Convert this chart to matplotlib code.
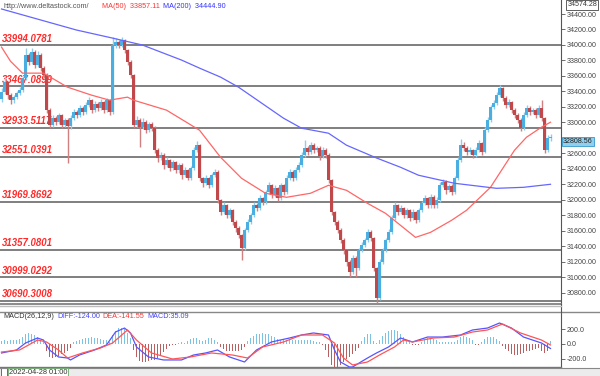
import matplotlib
matplotlib.use("Agg")
import matplotlib.pyplot as plt
from matplotlib.patches import Rectangle
import numpy as np

plt.rcParams['font.family'] = ['Liberation Sans', 'DejaVu Sans']

# ---------------- data ----------------
opens = [33300, 33391, 33520, 33352, 33287, 33326, 33378, 33416, 33572, 33869,
         33779, 33908, 33740, 33869, 33701, 33610, 33158, 32963, 33054, 33002,
         33093, 32963, 33028, 32950, 33054, 33132, 33093, 33183, 33132, 33222,
         33287, 33158, 33235, 33183, 33261, 33158, 33287, 33132, 33999, 34038,
         33999, 34063, 33934, 33779, 33610, 32963, 33028, 32938, 33002, 32899,
         32976, 32925, 32640, 32536, 32575, 32446, 32511, 32407, 32485, 32381,
         32446, 32316, 32381, 32278, 32407, 32640, 32705, 32278, 32213, 32278,
         32187, 32316, 32355, 31993, 31838, 31928, 31799, 31864, 31708, 31631,
         31540, 31372, 31605, 31708, 31799, 31928, 31889, 32019, 31967, 32097,
         32187, 32058, 32148, 32019, 32187, 32097, 32278, 32355, 32278, 32381,
         32446, 32575, 32666, 32614, 32705, 32640, 32666, 32562, 32640, 32575,
         32252, 31838, 31708, 31605, 31475, 31346, 31191, 31061, 31242, 31113,
         31346, 31411, 31475, 31579, 31501, 31113, 30725, 31191, 31346, 31475,
         31579, 31760, 31928, 31838, 31889, 31799, 31864, 31760, 31838, 31734,
         31864, 31954, 32019, 31928, 32032, 31928, 31993, 32187, 32226, 32122,
         32174, 32097, 32278, 32511, 32705, 32666, 32614, 32640, 32575, 32640,
         32731, 32614, 32899, 33028, 33196, 33248, 33352, 33442, 33313, 33222,
         33261, 33158, 33093, 33028, 32925, 33093, 33183, 33132, 33158, 33093,
         33183, 33054, 32640, 32795]
highs = [33440, 33600, 33540, 33380, 33360, 33410, 33460, 33600, 33960, 33900,
         33960, 33930, 33920, 33890, 33730, 33640, 33190, 33090, 33080, 33120,
         33110, 33060, 33050, 33090, 33170, 33160, 33220, 33210, 33260, 33330,
         33300, 33270, 33260, 33300, 33280, 33320, 33300, 34102, 34090, 34070,
         34100, 34080, 33950, 33800, 33630, 33080, 33060, 33050, 33030, 33010,
         33000, 32950, 32670, 32620, 32600, 32550, 32530, 32520, 32500, 32480,
         32470, 32420, 32400, 32440, 32680, 32760, 32720, 32300, 32320, 32300,
         32350, 32400, 32380, 32010, 31970, 31950, 31900, 31880, 31740, 31660,
         31560, 31640, 31750, 31830, 31970, 31960, 32060, 32040, 32130, 32230,
         32210, 32190, 32170, 32220, 32210, 32320, 32400, 32380, 32420, 32490,
         32620, 32770, 32700, 32740, 32730, 32700, 32690, 32680, 32670, 32600,
         32270, 31860, 31740, 31640, 31500, 31370, 31220, 31290, 31270, 31380,
         31450, 31510, 31620, 31610, 31520, 31130, 31230, 31380, 31510, 31620,
         31800, 31970, 31950, 31930, 31910, 31900, 31880, 31880, 31860, 31900,
         31990, 32060, 32040, 32070, 32060, 32030, 32230, 32270, 32250, 32210,
         32200, 32310, 32550, 32780, 32740, 32690, 32680, 32660, 32680, 32770,
         32750, 32940, 33070, 33230, 33290, 33390, 33480, 33460, 33340, 33300,
         33280, 33180, 33120, 33050, 33130, 33230, 33210, 33190, 33180, 33220,
         33290, 33070, 32840, 32850]
lows = [33260, 33370, 33300, 33240, 33250, 33300, 33350, 33390, 33550, 33740,
        33750, 33700, 33720, 33660, 33570, 33120, 32930, 32940, 32970, 32980,
        32930, 32940, 32470, 32920, 33030, 33060, 33070, 33100, 33110, 33200,
        33120, 33140, 33150, 33160, 33120, 33140, 33090, 33110, 33960, 33960,
        33980, 33900, 33740, 33570, 32930, 32940, 32680, 32910, 32860, 32870,
        32890, 32600, 32490, 32510, 32400, 32420, 32370, 32380, 32340, 32350,
        32270, 32290, 32250, 32260, 32390, 32620, 32240, 32170, 32190, 32150,
        32170, 32290, 31960, 31800, 31810, 31760, 31770, 31670, 31590, 31500,
        31220, 31350, 31580, 31690, 31780, 31850, 31870, 31930, 31940, 32070,
        32020, 32040, 31980, 32000, 32060, 32080, 32250, 32240, 32260, 32360,
        32420, 32550, 32580, 32590, 32600, 32620, 32520, 32540, 32540, 32220,
        31800, 31670, 31570, 31440, 31300, 31150, 31000, 31040, 31000, 31090,
        31320, 31390, 31450, 31470, 31080, 30665, 30700, 31170, 31320, 31450,
        31560, 31740, 31800, 31810, 31760, 31770, 31720, 31740, 31700, 31710,
        31840, 31930, 31890, 31900, 31890, 31900, 31970, 32160, 32080, 32100,
        32060, 32080, 32260, 32490, 32630, 32580, 32590, 32540, 32550, 32620,
        32580, 32600, 32880, 33010, 33170, 33230, 33330, 33280, 33190, 33200,
        33120, 33060, 32990, 32890, 32900, 33070, 33100, 33110, 33060, 33070,
        33020, 32600, 32620, 32760]
closes = [33391, 33520, 33352, 33287, 33326, 33378, 33416, 33572, 33869, 33779,
          33908, 33740, 33869, 33701, 33610, 33158, 32963, 33054, 33002, 33093,
          32963, 33028, 32950, 33054, 33132, 33093, 33183, 33132, 33222, 33287,
          33158, 33235, 33183, 33261, 33158, 33287, 33132, 33999, 34038, 33999,
          34063, 33934, 33779, 33610, 32963, 33028, 32938, 33002, 32899, 32976,
          32925, 32640, 32536, 32575, 32446, 32511, 32407, 32485, 32381, 32446,
          32316, 32381, 32278, 32407, 32640, 32705, 32278, 32213, 32278, 32187,
          32316, 32355, 31993, 31838, 31928, 31799, 31864, 31708, 31631, 31540,
          31372, 31605, 31708, 31799, 31928, 31889, 32019, 31967, 32097, 32187,
          32058, 32148, 32019, 32187, 32097, 32278, 32355, 32278, 32381, 32446,
          32575, 32666, 32614, 32705, 32640, 32666, 32562, 32640, 32575, 32252,
          31838, 31708, 31605, 31475, 31346, 31191, 31061, 31242, 31113, 31346,
          31411, 31475, 31579, 31501, 31113, 30725, 31191, 31346, 31475, 31579,
          31760, 31928, 31838, 31889, 31799, 31864, 31760, 31838, 31734, 31864,
          31954, 32019, 31928, 32032, 31928, 31993, 32187, 32226, 32122, 32174,
          32097, 32278, 32511, 32705, 32666, 32614, 32640, 32575, 32640, 32731,
          32614, 32899, 33028, 33196, 33248, 33352, 33442, 33313, 33222, 33261,
          33158, 33093, 33028, 32925, 33093, 33183, 33132, 33158, 33093, 33183,
          33054, 32640, 32795, 32808.56]

ma50_idx = [0, 3, 7, 14, 22, 30, 36, 42, 44, 55, 66, 73, 80, 88, 95, 103, 109,
            115, 122, 128, 133, 138, 143, 150, 155, 163, 171, 175, 180, 183]
ma50_val = [33973, 33790, 33636, 33636, 33455, 33352, 33287, 33326, 33287, 33158,
            32899, 32550, 32278, 32084, 32032, 32084, 32187, 32122, 31954, 31825,
            31670, 31514, 31579, 31734, 31864, 32161, 32640, 32808, 32938, 33002]
ma200_idx = [0, 25, 37, 47, 60, 66, 73, 79, 94, 100, 109, 115, 125, 133, 139,
             151, 165, 174, 183]
ma200_val = [34465, 34193, 34089, 33999, 33805, 33701, 33585, 33455, 33054, 32925,
             32860, 32705, 32540, 32420, 32317, 32213, 32148, 32161, 32200]

levels = [33994.0781, 33467.0899, 32933.5117, 32551.0391, 31969.8692,
          31357.0801, 30999.0292, 30690.3008]
level_labels = ["33994.0781", "33467.0899", "32933.5117", "32551.0391",
                "31969.8692", "31357.0801", "30999.0292", "30690.3008"]

price_ticks = [30800, 31000, 31200, 31400, 31600, 31800, 32000, 32200, 32400,
               32600, 32800, 33000, 33200, 33400, 33600, 33800, 34000, 34200, 34400]
hidden_tick = 32800  # covered by the current-price box in the reference

macd_hist = [40, 50, 45, 55, 50, 60, 70,
             100, 130, 145, 140, 120,
             90, 60, 30,
             -100, -170, -190, -180, -160, -140, -120, -100, -60,
             20, 40, 60, 70, 80, 80, 90, 80, 80, 70, 60, 50,
             20,
             120, 180, 210, 220, 200, 150, 80,
             -80, -170, -230, -240, -240, -230, -220, -210, -190, -150, -110, -70,
             -30, -20, -10, 10, 20, 10,
             40, 70, 80, 80, 60,
             40, 60, 75, 75, 60, 30,
             -40, -70, -90, -100, -100, -95, -90, -80, -40,
             40, 80, 110, 130, 140, 145, 140, 130, 110, 90,
             70, 60, 55, 55, 50, 50, 55, 50,
             50, 60, 55, 50, 40, 30, 20,
             -20, -80, -180, -280, -320, -310, -280,
             -240, -200, -170, -130, -100, -60,
             40, 90, 130, 140, 40, 10,
             60, 110, 150, 180, 190, 190, 170, 140, 100, 60,
             20, -10, -20, -10,
             30, 60, 75, 80, 70, 50, 30,
             20, 25, 30, 25, 20,
             60, 100, 110, 100, 80, 50,
             -10, -15,
             30, 70, 90, 95, 90, 70, 40,
             -30, -70, -100, -130, -150, -150, -140, -120, -100, -90, -80, -70, -60,
             -90, -120, -100, 35]

diff_idx = [0, 5, 8, 12, 14, 16, 19, 22, 23, 26, 31, 35, 38, 41, 43, 45, 49, 54,
            60, 64, 68, 72, 76, 81, 85, 90, 96, 100, 104, 109, 111, 113, 116, 117,
            122, 125, 129, 133, 137, 142, 147, 153, 157, 162, 166, 170, 174, 177,
            180, 183]
diff_val = [-120, -80, 13, 80, 53, -80, -173, -187, -213, -147, -80, -13, 160, 213,
            147, -40, -173, -213, -213, -147, -120, -80, -173, -240, -80, 27, 80,
            120, 147, 120, -80, -240, -307, -307, -187, -120, -40, 80, 27, 93, 93,
            120, 187, 213, 280, 213, 93, 53, 13, -60]
dea_idx = [0, 6, 12, 15, 19, 22, 27, 33, 37, 42, 45, 50, 57, 63, 70, 77, 82, 87,
           94, 100, 107, 111, 114, 117, 122, 126, 131, 134, 137, 144, 151, 157,
           162, 167, 173, 180, 183]
dea_val = [-107, -80, 53, 27, -80, -187, -120, -53, 13, 187, 53, -120, -200, -173,
           -120, -147, -187, -40, 27, 120, 120, 13, -187, -280, -240, -147, -40, 53,
           27, 80, 93, 160, 187, 267, 147, 53, -13]
macd_ticks = [200, 0, -200]

# ---------------- figure ----------------
W, H = 600, 376
fig = plt.figure(figsize=(6, 3.76), dpi=100)
fig.patch.set_facecolor('white')

def fx(px):
    return px / W

def fy(py):
    return 1 - py / H

# main axes: x 0..561 px, y 0..304 px
ax = fig.add_axes([0, fy(304), fx(561), 304 / H])
ymax = 34581
ymin = 34581 - 304 * 12.92
ax.set_ylim(ymin, ymax)
ax.set_xlim(-0.5, 186.5)

n = len(closes)
x = np.arange(n)
o = np.array(opens, float)
c = np.array(closes, float)
h = np.array(highs, float)
l = np.array(lows, float)
up = c >= o
up_col, dn_col = '#4aaee0', '#c0474a'
up_wick, dn_wick = '#8fcdec', '#d08080'

# horizontal levels + labels
for lv, lab in zip(levels, level_labels):
    ax.axhline(lv, color='#6a6a6a', lw=1.2, zorder=1)
    ax.annotate(lab, xy=(0.004, lv), xycoords=('axes fraction', 'data'),
                xytext=(0, 1.2), textcoords='offset points',
                ha='left', va='bottom', color='#ff2a2a', fontsize=6.9,
                fontweight='bold', fontstyle='italic', zorder=2)

# candles
ax.vlines(x[up], l[up], h[up], color=up_wick, lw=1.0, zorder=3)
ax.vlines(x[~up], l[~up], h[~up], color=dn_wick, lw=1.0, zorder=3)
body_lo = np.minimum(o, c)
body_h = np.maximum(np.abs(c - o), 8)
ax.bar(x[up], body_h[up], bottom=body_lo[up], width=0.78, color=up_col,
       lw=0, zorder=4)
ax.bar(x[~up], body_h[~up], bottom=body_lo[~up], width=0.78, color=dn_col,
       lw=0, zorder=4)

# moving averages
ax.plot(ma50_idx, ma50_val, color='#ff6666', lw=0.9, zorder=5)
ax.plot(ma200_idx, ma200_val, color='#6666ff', lw=0.9, zorder=5)

ax.yaxis.tick_right()
ax.set_yticks(price_ticks)
ax.set_yticklabels(['' if t == hidden_tick else '%.2f' % t for t in price_ticks])
ax.tick_params(axis='y', direction='out', length=3, width=0.6, color='#555555',
               labelsize=5.1, labelcolor='#444444', pad=1)
ax.set_xticks([])
for s in ['top', 'left']:
    ax.spines[s].set_visible(False)
ax.spines['right'].set_color('#555555')
ax.spines['right'].set_linewidth(0.8)
ax.spines['bottom'].set_color('#777777')
ax.spines['bottom'].set_linewidth(1.2)

# ---------------- MACD panel ----------------
mx = fig.add_axes([0, fy(367), fx(561), 55 / H])
mx.set_xlim(-0.5, 186.5)
mx.set_ylim(-307, 427)
hist = np.array(macd_hist, float)
pos = hist >= 0
mx.bar(x[pos], hist[pos], width=0.45, color='#7cc2e2', lw=0, zorder=2)
mx.bar(x[~pos], hist[~pos], width=0.45, color='#b86060', lw=0, zorder=2)
mx.plot(diff_idx, diff_val, color='#5555ff', lw=0.9, zorder=3)
mx.plot(dea_idx, dea_val, color='#ff5555', lw=0.9, zorder=3)
mx.yaxis.tick_right()
mx.set_yticks(macd_ticks)
mx.set_yticklabels(['%.1f' % t for t in macd_ticks])
mx.tick_params(axis='y', direction='out', length=3, width=0.6, color='#555555',
               labelsize=5.1, labelcolor='#444444', pad=1)
mx.set_xticks([])
for s in ['top', 'left']:
    mx.spines[s].set_visible(False)
mx.spines['right'].set_color('#555555')
mx.spines['right'].set_linewidth(0.8)
mx.spines['bottom'].set_color('#777777')
mx.spines['bottom'].set_linewidth(1.0)

# panel separator lines
fig.add_artist(plt.Line2D([0, 1], [fy(311.5), fy(311.5)], color='#888888', lw=1.0))
fig.add_artist(plt.Line2D([fx(561), fx(561)], [fy(304), fy(311.5)], color='#555555', lw=0.8))
fig.add_artist(plt.Line2D([0, fx(561)], [fy(305.5), fy(305.5)], color='#bbbbbb', lw=1.0))

# bottom date bar
fig.add_artist(Rectangle((0, 0), 1, fy(368), transform=fig.transFigure,
                         facecolor='#ececec', edgecolor='none'))
fig.add_artist(plt.Line2D([0, 1], [fy(368), fy(368)], color='#888888', lw=0.8))
fig.add_artist(Rectangle((fx(0.5), fy(375.5)), fx(6), 7.5 / H, transform=fig.transFigure,
                         facecolor='white', edgecolor='#555555', lw=0.6))
fig.text(fx(9), fy(372), '2022-04-28 01:00', fontsize=5.3, color='#333333',
         ha='left', va='center',
         bbox=dict(boxstyle='square,pad=0.12', fc='white', ec='#6aa86a', lw=0.6))

# top legend
fig.text(fx(3), fy(6), 'http://www.deltastock.com/', fontsize=5.2, color='#555555',
         ha='left', va='center')
fig.text(fx(102), fy(6), 'MA(50)  33857.11', fontsize=5.2, color='#ff3333',
         ha='left', va='center')
fig.text(fx(163), fy(6), 'MA(200)  34444.90', fontsize=5.2, color='#3333ff',
         ha='left', va='center')

# MACD legend
fig.text(fx(3), fy(317), 'MACD(26,12,9)', fontsize=5.2, color='#333333',
         ha='left', va='center')
fig.text(fx(57), fy(317), 'DIFF:-124.00', fontsize=5.2, color='#4444ff',
         ha='left', va='center')
fig.text(fx(102), fy(317), 'DEA:-141.55', fontsize=5.2, color='#ff3333',
         ha='left', va='center')
fig.text(fx(147), fy(317), 'MACD:35.09', fontsize=5.2, color='#4444ff',
         ha='left', va='center')

# right-axis boxes
fig.text(fx(597), fy(4.8), '34574.28', fontsize=5.1, color='#333333',
         ha='right', va='center', zorder=10,
         bbox=dict(boxstyle='square,pad=0.2', fc='white', ec='#444444', lw=0.6))
fig.text(fx(563), fy(141.5), '32808.56', fontsize=5.1, color='#222222',
         ha='left', va='center', zorder=10,
         bbox=dict(boxstyle='square,pad=0.18', fc='#8fd0ee', ec='#3399cc', lw=0.6))

fig.savefig('out.png', dpi=100, facecolor='white')
